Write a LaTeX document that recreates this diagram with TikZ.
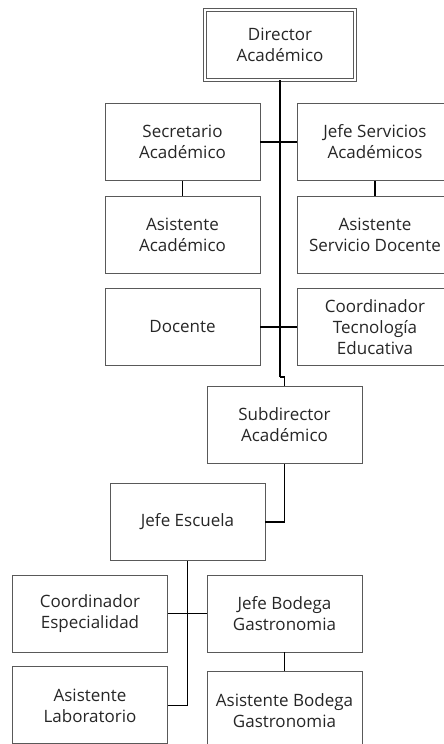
\documentclass[tikz,border=0pt]{standalone}
\usepackage{fontspec}
\setmainfont{Open Sans}
\usetikzlibrary{positioning}

\begin{document}
\begin{tikzpicture}[x=1pt,y=-1pt,
  box/.style={draw=black!65,line width=0.9pt,minimum width=155pt,minimum height=77pt,
    inner sep=0pt,align=center,text=black!85,font=\fontsize{17}{21}\selectfont},
  link/.style={draw=black,line width=1.4pt}]
  \useasboundingbox (0,0) rectangle (444,744);

  \node[box,double,double distance=2.2pt,line width=0.7pt,minimum width=150pt,minimum height=70pt]
                        (da)  at (280,45)        {Director\\Académico};
  \node[box]            (sa)  at (182.5,142)     {Secretario\\Académico};
  \node[box]            (js)  at (375,142)       {Jefe Servicios\\Académicos};
  \node[box]            (aa)  [below=15pt of sa] {Asistente\\Académico};
  \node[box]            (asd) [below=15pt of js] {Asistente\\Servicio Docente};
  \node[box]            (d)   [below=14pt of aa] {Docente};
  \node[box]            (cte) [below=14pt of asd] {Coordinador\\Tecnología\\Educativa};
  \node[box]            (sd)  at (284.5,425)     {Subdirector\\Académico};
  \node[box]            (je)  at (187.5,522)     {Jefe Escuela};
  \node[box]            (ce)  at (90,613.5)      {Coordinador\\Especialidad};
  \node[box]            (jb)  at (284.5,613.5)   {Jefe Bodega\\Gastronomia};
  \node[box]            (al)  [below=14pt of ce] {Asistente\\Laboratorio};
  \node[box]            (ab)  [below=19pt of jb] {Asistente Bodega\\Gastronomia};

  \coordinate (k) at (280,377);

  \path[link] (da.south) edge (k)
              (sa.east)  edge (js.west)
              (d.east)   edge (cte.west)
              (sa)       edge (aa)
              (js)       edge (asd)
              (ce.east)  edge (jb.west)
              (jb)       edge (ab)
  ;
  \draw[link] (k) -| (sd.north);
  \draw[link] (sd.south) |- (je.east);
  \draw[link] (je.south) |- (al.east);
\end{tikzpicture}
\end{document}
